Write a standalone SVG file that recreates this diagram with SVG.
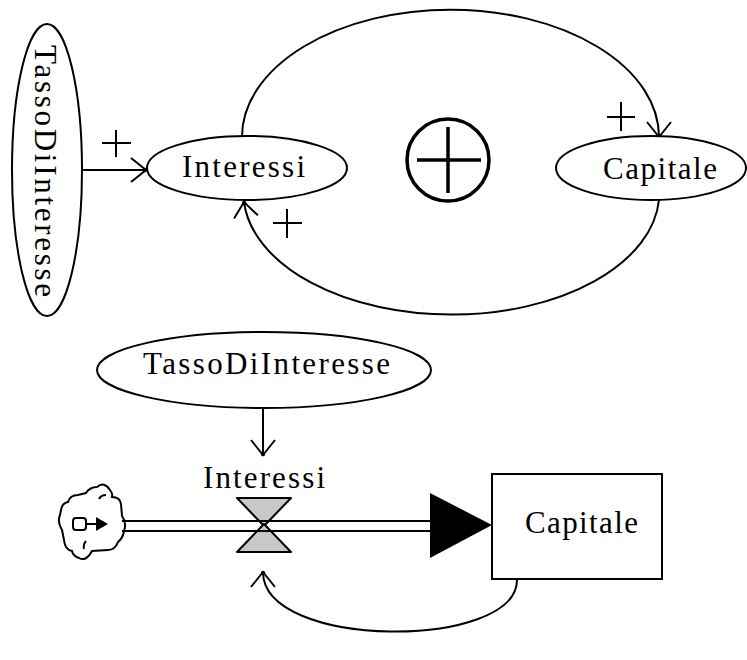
<svg xmlns="http://www.w3.org/2000/svg" width="747" height="660" viewBox="0 0 747 660">
  <style>
    .lbl { font-family: "Liberation Serif", "Times New Roman", serif; font-size: 31px; fill: #000; }
    .shape { fill: #fff; stroke: #000; stroke-width: 2; }
    .link { fill: none; stroke: #000; stroke-width: 2; }
    .sign { fill: none; stroke: #000; stroke-width: 2; }
  </style>
  <defs>
    <marker id="arr" markerUnits="userSpaceOnUse" markerWidth="32" markerHeight="32" viewBox="-16 -16 32 32" refX="0" refY="0" orient="auto">
      <path d="M-15,-12 L0,0 L-15,12" fill="none" stroke="#000" stroke-width="2"/>
      <circle cx="-1" cy="0" r="2.2" fill="#000"/>
    </marker>
  </defs>

  <rect width="747" height="660" fill="#fff"/>

  <!-- causal loop diagram -->
  <g id="connectors-loop">
    <path class="link" d="M82,170 L146,170" marker-end="url(#arr)"/>
    <path class="link" d="M242,137 A208,127 0 0 1 659,137" marker-end="url(#arr)"/>
    <path class="link" d="M659,200 A208,122 0 0 1 244,202" marker-end="url(#arr)"/>
  </g>

  <g id="tasso-cld">
    <ellipse class="shape" cx="47" cy="170" rx="35" ry="146"/>
    <text class="lbl" transform="translate(35,45) rotate(90)" x="0" y="0" textLength="252" lengthAdjust="spacing">TassoDiInteresse</text>
  </g>

  <g id="interessi-cld">
    <ellipse class="shape" cx="247" cy="168" rx="100" ry="32"/>
    <text class="lbl" x="182" y="177" textLength="123" lengthAdjust="spacing">Interessi</text>
  </g>

  <g id="capitale-cld">
    <ellipse class="shape" cx="651" cy="168" rx="95" ry="32"/>
    <text class="lbl" x="603" y="179" textLength="114" lengthAdjust="spacing">Capitale</text>
  </g>

  <!-- polarity signs -->
  <g id="polarities">
    <path class="sign" d="M102,143 H131 M116,130 V157"/>
    <path class="sign" d="M607,117 H635 M621,102 V131"/>
    <path class="sign" d="M273,223 H302 M287,209 V238"/>
  </g>

  <!-- reinforcing loop marker -->
  <g id="loop-r">
    <circle cx="448" cy="160" r="41" fill="none" stroke="#000" stroke-width="3.5"/>
    <path d="M417,160 H481 M448,127 V193" stroke="#000" stroke-width="3.5"/>
  </g>

  <!-- stock and flow diagram -->
  <g id="connectors-sf">
    <path class="link" d="M263,408 L263,455" marker-end="url(#arr)"/>
    <path class="link" d="M517,580 C517,650 263,650 263,572" marker-end="url(#arr)"/>
  </g>

  <g id="tasso-sf">
    <ellipse class="shape" cx="264" cy="370" rx="167" ry="38"/>
    <text class="lbl" x="143" y="374" textLength="247" lengthAdjust="spacing">TassoDiInteresse</text>
  </g>

  <g id="source-cloud">
    <path class="shape" d="M97,487 Q104,481 110,490 Q113,494 112,497 Q120,497 121,504 L122,516 Q127,523 124,531 Q123,538 118,542 Q115,550 108,550 L92,551 Q86,562 79,558 Q73,556 72,551 Q65,550 64,540 L62,530 Q57,522 60,515 L61,510 Q62,503 68,502 Q70,495 78,495 L86,493 Q90,487 97,487 Z"/>
    <path class="link" d="M99,499 Q101,495 106,495 M84,549 Q83,544 86,541"/>
    <rect x="73" y="518" width="13" height="12" rx="3" fill="none" stroke="#000" stroke-width="2"/>
    <path d="M86,524 H97" stroke="#000" stroke-width="2"/>
    <polygon points="96,517 108,524 96,531" fill="#000"/>
  </g>

  <g id="flow-interessi">
    <path d="M122,521 H430 M122,531 H430" stroke="#000" stroke-width="2" fill="none"/>
    <polygon points="237,498 291,498 264,526" fill="#c8c8c8" stroke="#000" stroke-width="2" stroke-linejoin="round"/>
    <polygon points="264,524 291,552 237,552" fill="#c8c8c8" stroke="#000" stroke-width="2" stroke-linejoin="round"/>
    <path d="M258,521 H270 M258,531 H270" stroke="#000" stroke-width="2"/>
    <polygon points="430,493 492,525 430,558" fill="#000"/>
    <text class="lbl" x="203" y="488" textLength="122" lengthAdjust="spacing">Interessi</text>
  </g>

  <g id="capitale-stock">
    <rect class="shape" x="492" y="474" width="170" height="105"/>
    <text class="lbl" x="525" y="533" textLength="113" lengthAdjust="spacing">Capitale</text>
  </g>
</svg>
